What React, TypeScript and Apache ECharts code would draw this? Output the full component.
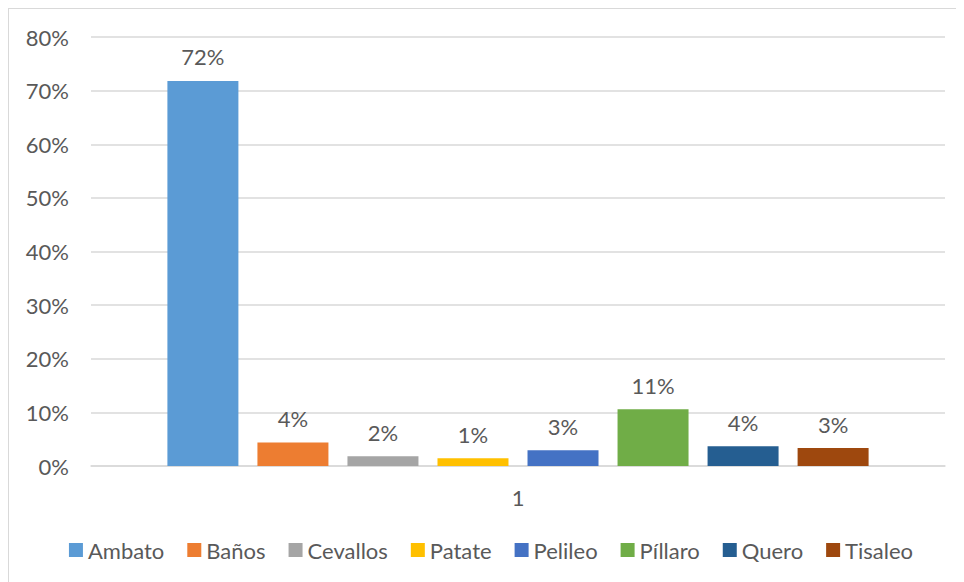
import React, { useEffect, useRef } from "react";
import * as echarts from "echarts";

const categories = ["1"];
const seriesNames = ["Ambato", "Baños", "Cevallos", "Patate", "Pelileo", "Píllaro", "Quero", "Tisaleo"];
const seriesValues = [71.8, 4.4, 1.8, 1.45, 2.95, 10.6, 3.7, 3.35];
const seriesColors = ["#5b9bd5", "#ed7d31", "#a5a5a5", "#ffc000", "#4472c4", "#70ad47", "#255e91", "#9e480e"];
const yTicks = { min: 0, max: 80, interval: 10 };

const FONT = "Lato, 'Open Sans', sans-serif";
const TXT = "#595959";
const FS = 22;

export default function App() {
  const ref = useRef<HTMLDivElement>(null);
  useEffect(() => {
    if (!ref.current) return;
    const chart = echarts.init(ref.current, null, { renderer: "svg" });
    chart.setOption({
      animation: false,
      textStyle: { fontFamily: FONT },
      grid: { left: 82, right: 28, top: 28, bottom: 125, containLabel: false },
      legend: {
        bottom: 25,
        left: "center",
        itemWidth: 14,
        itemHeight: 14,
        itemGap: 23,
        icon: "rect",
        textStyle: { color: TXT, fontSize: FS, fontFamily: FONT },
        data: seriesNames,
      },
      xAxis: {
        type: "category",
        data: categories,
        axisLine: { show: true, lineStyle: { color: "#d9d9d9", width: 1.5 } },
        axisTick: { show: false },
        axisLabel: { color: TXT, fontSize: FS, margin: 20, fontFamily: FONT },
      },
      yAxis: {
        type: "value",
        min: yTicks.min,
        max: yTicks.max,
        interval: yTicks.interval,
        axisLine: { show: false },
        axisTick: { show: false },
        axisLabel: { color: TXT, fontSize: FS, margin: 22, fontFamily: FONT, formatter: (v: number) => v + "%" },
        splitLine: { lineStyle: { color: "#d9d9d9", width: 1.5 } },
      },
      series: seriesNames.map((name, i) => ({
        name,
        type: "bar",
        data: [seriesValues[i]],
        barWidth: 71,
        barGap: "26.8%",
        itemStyle: { color: seriesColors[i] },
        label: {
          show: true,
          position: "top",
          distance: 13,
          color: TXT,
          fontSize: FS,
          fontFamily: FONT,
          formatter: (p: any) => Math.round(p.value) + "%",
        },
      })),
    });
    return () => chart.dispose();
  }, []);
  return (
    <div style={{ width: 964, height: 582, border: "1px solid #d9d9d9", position: "relative", background: "#fff" }}>
      <div ref={ref} style={{ position: "absolute", left: 0, top: 0, width: 964, height: 582 }} />
    </div>
  );
}
